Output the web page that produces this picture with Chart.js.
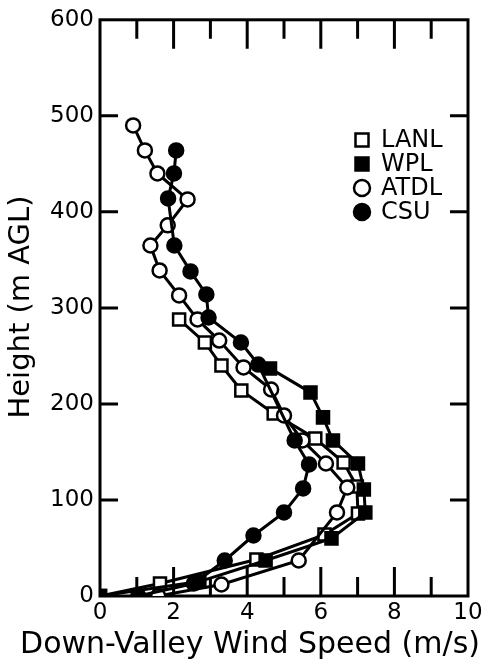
<!DOCTYPE html>
<html>
<head>
<meta charset="utf-8">
<script src="https://cdn.jsdelivr.net/npm/chart.js@4.4.1/dist/chart.umd.min.js"></script>
<style>
    html, body { margin: 0; padding: 0; background: #fff; }
</style>
</head>
<body>
<canvas id="windChart" width="489" height="666"></canvas>
<script>
// Données (vitesse en m/s, hauteur en m AGL)
const lanlSpeed  = [2.15, 2.85, 3.30, 3.84, 4.72, 5.85, 6.62, 6.98, 7.01, 6.10, 4.25, 1.63, 0];
const lanlHeight = [288, 264, 240, 214, 190, 164, 139, 114, 86, 64, 38, 13, 0];

const wplSpeed  = [4.62, 5.72, 6.06, 6.33, 7.01, 7.17, 7.21, 6.29, 4.50, 2.70, 0];
const wplHeight = [237, 212, 186, 162, 138, 111, 87, 60, 37, 15, 0];

const atdlSpeed  = [0.90, 1.22, 1.56, 2.38, 1.84, 1.37, 1.62, 2.15, 2.65, 3.24, 3.90, 4.65, 5.00, 5.50, 6.14, 6.72, 6.44, 5.40, 3.30, 1.58];
const atdlHeight = [490, 464, 440, 413, 386, 365, 339, 313, 288, 266, 238, 215, 188, 162, 138, 113, 87, 37, 12, 0];

const csuSpeed  = [2.07, 2.01, 1.85, 2.02, 2.46, 2.89, 2.95, 3.83, 4.30, 5.29, 5.68, 5.52, 5.00, 4.17, 3.39, 2.55, 1.04];
const csuHeight = [464, 440, 414, 365, 338, 314, 290, 264, 241, 162, 137, 112, 87, 63, 37, 13, 0];

const xTickValues = [0, 2, 4, 6, 8, 10];
const yTickValues = [0, 100, 200, 300, 400, 500, 600];

const xTitle = "Down-Valley Wind Speed (m/s)";
const yTitle = "Height (m AGL)";

const FONT = "'DejaVu Sans', sans-serif";

function toPoints(speeds, heights) {
    return speeds.map((s, i) => ({ x: s, y: heights[i] }));
}

function makeDataset(label, speeds, heights, style, filled) {
    return {
        label: label,
        data: toPoints(speeds, heights),
        borderColor: "#000",
        borderWidth: 3,
        pointStyle: style,
        pointRadius: style === "rect" ? 8.5 : 7,
        pointBorderWidth: 2.5,
        pointBorderColor: "#000",
        pointBackgroundColor: filled ? "#000" : "#fff",
        tension: 0,
        fill: false
    };
}

// Cadre, petits traits vers l'intérieur, titres et légende
const framePlugin = {
    id: "framePlugin",
    beforeDatasetsDraw(chart) {
        const ctx = chart.ctx;
        const a = chart.chartArea;
        const xs = chart.scales.x;
        const ys = chart.scales.y;
        ctx.save();
        ctx.strokeStyle = "#000";
        ctx.lineWidth = 3;
        ctx.strokeRect(a.left, a.top, a.right - a.left, a.bottom - a.top);
        ctx.beginPath();
        for (let v = 1; v < 10; v++) {
            const px = xs.getPixelForValue(v);
            const len = (v % 2 === 0) ? 29 : 19;
            ctx.moveTo(px, a.bottom);
            ctx.lineTo(px, a.bottom - len);
            ctx.moveTo(px, a.top);
            ctx.lineTo(px, a.top + len);
        }
        for (let v = 100; v < 600; v += 100) {
            const py = ys.getPixelForValue(v);
            ctx.moveTo(a.left, py);
            ctx.lineTo(a.left + 18, py);
            ctx.moveTo(a.right, py);
            ctx.lineTo(a.right - 18, py);
        }
        ctx.stroke();
        ctx.restore();
    },
    afterDraw(chart) {
        const ctx = chart.ctx;
        ctx.save();
        ctx.fillStyle = "#000";
        ctx.textAlign = "center";
        ctx.textBaseline = "middle";

        // titre axe x
        ctx.font = "30px " + FONT;
        ctx.fillText(xTitle, 250, 645);

        // titre axe y
        ctx.save();
        ctx.translate(21, 307);
        ctx.rotate(-Math.PI / 2);
        ctx.font = "29px " + FONT;
        ctx.fillText(yTitle, 0, 0);
        ctx.restore();

        // légende
        const rows = [140, 164, 188, 212];
        ctx.font = "24px " + FONT;
        ctx.textAlign = "left";
        chart.data.datasets.slice().reverse().forEach((ds, i) => {
            const y = rows[i];
            const x = 362;
            ctx.lineWidth = 2.5;
            ctx.strokeStyle = "#000";
            ctx.fillStyle = ds.pointBackgroundColor;
            ctx.beginPath();
            if (ds.pointStyle === "rect") {
                ctx.rect(x - 6.5, y - 6.5, 13, 13);
            } else {
                ctx.arc(x, y, 8, 0, Math.PI * 2);
            }
            ctx.fill();
            ctx.stroke();
            ctx.fillStyle = "#000";
            ctx.fillText(ds.label, 381, y + 1);
        });
        ctx.restore();
    }
};

const ctx = document.getElementById("windChart");

new Chart(ctx, {
    type: "line",
    data: {
        datasets: [
            makeDataset("CSU", csuSpeed, csuHeight, "circle", true),
            makeDataset("ATDL", atdlSpeed, atdlHeight, "circle", false),
            makeDataset("WPL", wplSpeed, wplHeight, "rect", true),
            makeDataset("LANL", lanlSpeed, lanlHeight, "rect", false)
        ]
    },
    options: {
        responsive: false,
        devicePixelRatio: 1,
        animation: false,
        layout: { padding: { top: 3, right: 21, left: 0, bottom: 0 } },
        plugins: {
            legend: { display: false },
            tooltip: { enabled: false }
        },
        scales: {
            x: {
                type: "linear",
                position: "bottom",
                min: 0,
                max: 10,
                afterBuildTicks: s => { s.ticks = xTickValues.map(v => ({ value: v })); },
                afterFit: s => { s.height = 70; },
                ticks: { color: "#000", font: { family: FONT, size: 23 }, padding: 3, maxRotation: 0 },
                grid: { drawOnChartArea: false, drawTicks: false },
                border: { display: false }
            },
            y: {
                type: "linear",
                position: "left",
                min: 0,
                max: 600,
                afterBuildTicks: s => { s.ticks = yTickValues.map(v => ({ value: v })); },
                afterFit: s => { s.width = 100; },
                ticks: { color: "#000", font: { family: FONT, size: 23 }, padding: 6 },
                grid: { drawOnChartArea: false, drawTicks: false },
                border: { display: false }
            }
        }
    },
    plugins: [framePlugin]
});
</script>
</body>
</html>
